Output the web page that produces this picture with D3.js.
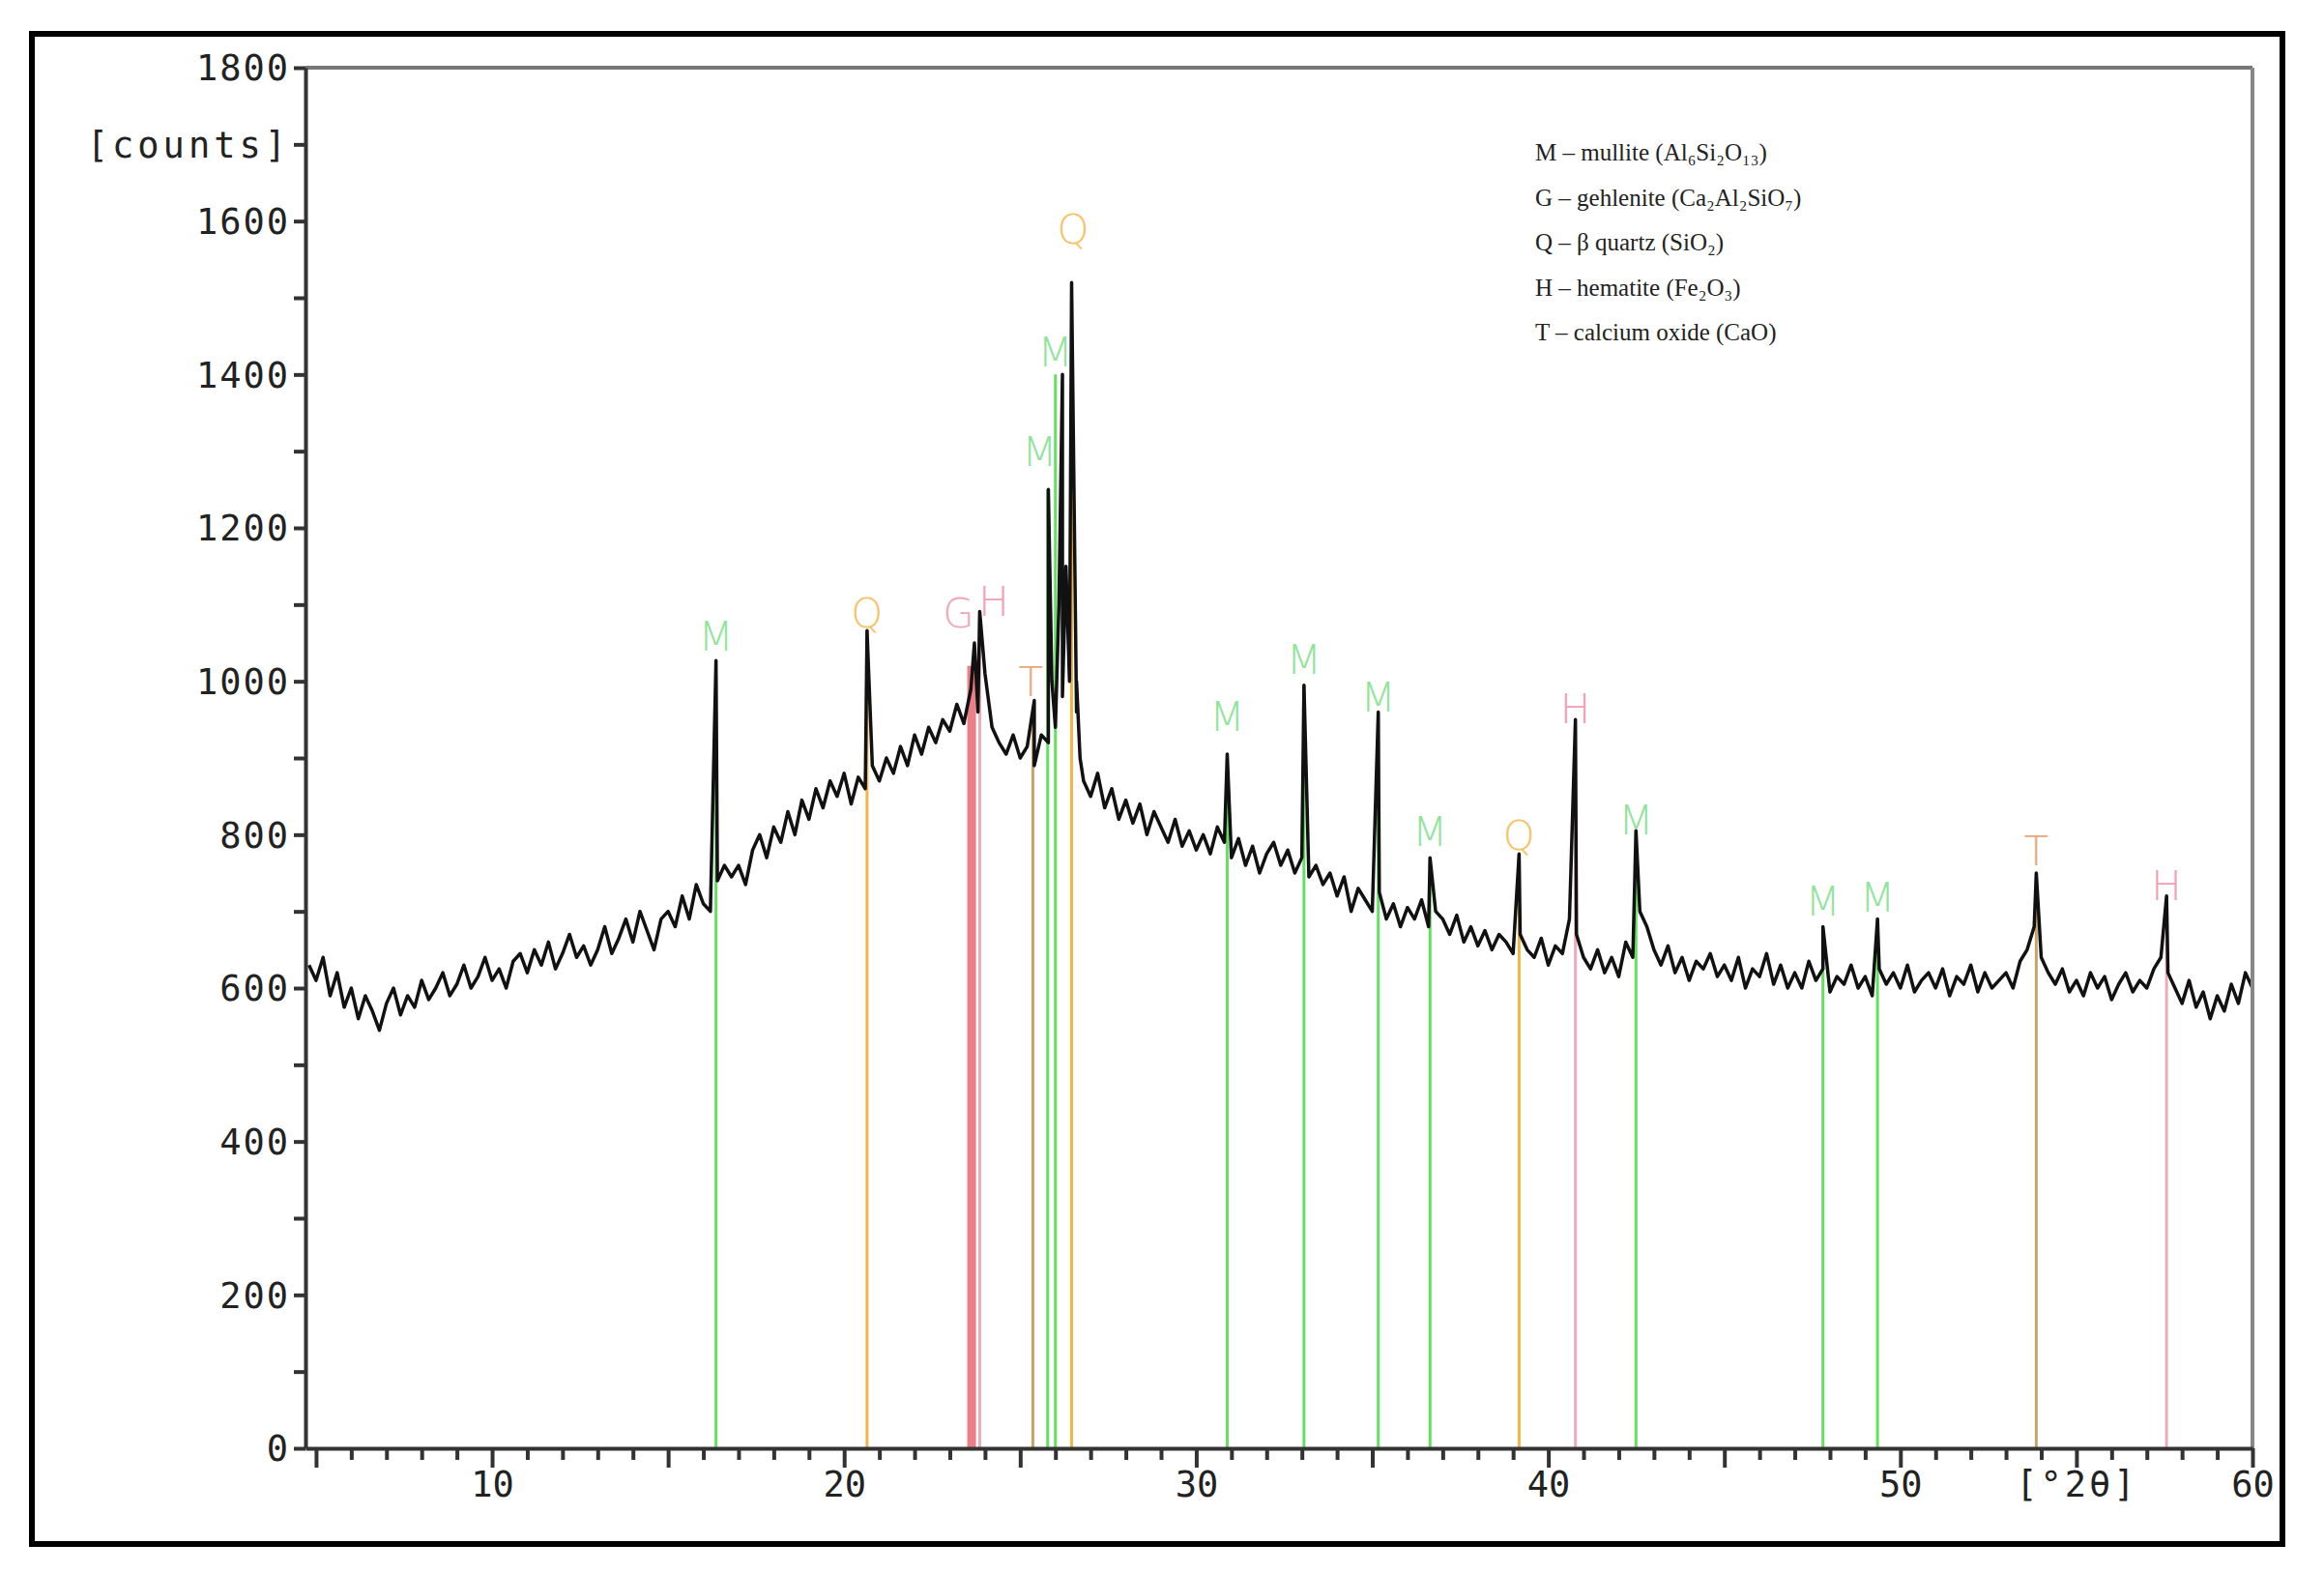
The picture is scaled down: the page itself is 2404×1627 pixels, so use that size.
<!DOCTYPE html>
<html><head><meta charset="utf-8">
<script src="https://cdn.jsdelivr.net/npm/d3@7"></script>
<style>body{margin:0;background:#fff}</style></head>
<body><svg id="c" width="2404" height="1627"></svg>
<script>
const traceStart = 4.8, traceStep = 0.2;
const traceCounts = [
630,
610,640,590,620,575,600,560,590,570,545,
580,600,565,590,575,610,585,600,620,590,
605,630,600,615,640,610,625,600,635,645,
620,650,630,660,625,645,670,640,655,630,
650,680,645,665,690,660,700,675,650,690,
700,680,720,690,735,710,700,740,760,745,
760,735,780,800,770,810,790,830,800,845,
820,860,835,870,850,880,840,875,860,890,
870,900,880,915,890,930,905,940,920,950,
935,970,945,990,960,1010,940,920,905,930,
900,915,890,930,920,940,980,1000,960,870,
850,880,835,860,820,845,815,840,800,830,
810,790,820,785,805,780,800,775,810,790,
770,795,760,785,750,775,790,760,780,750,
770,745,760,735,750,720,745,700,730,715,
700,725,690,710,680,705,690,715,680,700,
690,670,695,660,680,655,675,650,670,660,
645,670,650,640,665,630,655,645,690,670,
640,625,650,620,640,615,660,640,700,680,
650,630,655,620,640,610,635,625,645,615,
630,610,640,600,625,615,645,605,630,600,
620,600,635,610,625,595,615,605,630,600,
615,590,625,605,620,600,630,595,610,620,
600,625,590,615,605,630,595,620,600,610,
620,600,635,650,680,640,620,605,625,595,
610,590,620,600,615,585,605,620,595,610,
600,625,640,620,600,580,610,575,595,560,
590,570,605,580,620,600];
const peakAngles = [16.36,20.65,23.7,23.85,25.4,25.8,25.9,26.1,26.2,26.3,26.46,26.6,26.7,30.88,33.06,35.17,36.64,39.17,40.77,42.49,47.8,49.35,53.86,57.56];
const peakCounts = [1027,1066,1050,1091,975,1250,1000,1100,1400,1150,1520,1000,900,905,995,960,770,775,950,805,680,690,750,720];

const refAngles = [16.36,20.65,23.62,23.85,25.36,25.78,26.0,26.46,30.88,33.06,35.17,36.64,39.17,40.77,42.49,47.8,49.35,53.86,57.56];
const refTops   = [1000,1066,1020,1091,960,1250,1400,1520,905,995,960,770,775,950,805,680,690,750,720];
const refPhase  = ["M","Q","G","H","T","M","M","Q","M","M","M","M","Q","H","M","M","M","T","H"];
const labelAngles = [16.36,20.65,23.25,24.25,25.3,25.55,26.0,26.5,30.88,33.06,35.17,36.64,39.17,40.77,42.49,47.8,49.35,53.86,57.56];
const labelCounts = [1030,1060,1060,1075,970,1270,1400,1560,925,1000,950,775,770,935,790,685,690,750,705];

const yTicks = [0,200,400,600,800,1000,1200,1400,1600,1800];
const xTicks = [10,20,30,40,50,60];
const legendLines = ["M – mullite (Al₆Si₂O₁₃)","G – gehlenite (Ca₂Al₂SiO₇)","Q – β quartz (SiO₂)","H – hematite (Fe₂O₃)","T – calcium oxide (CaO)"];

const lineColor = {M:"#62e062",Q:"#f2b544",G:"#ec7f86",H:"#eeaab8",T:"#c8a46c"};
const lineWidth = {M:3,Q:3,G:9,H:3,T:3};
const labelColor = {M:"#8fe49a",Q:"#f4c46a",G:"#f1a8b8",H:"#f1a0b8",T:"#e8a878"};

const svg = d3.select("#c");
svg.append("rect").attr("x",33).attr("y",35).attr("width",2328).attr("height",1562)
  .attr("fill","#fff").attr("stroke","#000").attr("stroke-width",6);

const x = d3.scaleLinear().domain([4.7,60]).range([316,2330]);
const y = d3.scaleLinear().domain([0,1800]).range([1498,70]);

svg.append("g").selectAll("line").data(refAngles).join("line")
  .attr("x1",d=>x(d)).attr("x2",d=>x(d)).attr("y1",y(0)).attr("y2",(d,i)=>y(refTops[i]))
  .attr("stroke",(d,i)=>lineColor[refPhase[i]]).attr("stroke-width",(d,i)=>lineWidth[refPhase[i]]);

const pts = traceCounts.map((c,i)=>[traceStart+i*traceStep,c]);
peakAngles.forEach((a,i)=>pts.push([a,peakCounts[i]]));
pts.sort((a,b)=>a[0]-b[0]);
svg.append("path").attr("d",d3.line().x(d=>x(d[0])).y(d=>y(d[1]))(pts))
  .attr("fill","none").attr("stroke","#111").attr("stroke-width",3.5).attr("stroke-linejoin","round");

svg.append("g").selectAll("text").data(labelAngles).join("text")
  .attr("x",d=>x(d)).attr("y",(d,i)=>y(labelCounts[i])-8).attr("text-anchor","middle")
  .attr("font-family","DejaVu Sans").attr("font-size",42).attr("font-weight",300)
  .attr("fill",(d,i)=>labelColor[refPhase[i]]).text((d,i)=>refPhase[i]);

svg.append("line").attr("x1",x(4.7)).attr("x2",x(60)).attr("y1",y(1800)).attr("y2",y(1800)).attr("stroke","#777").attr("stroke-width",4);
svg.append("line").attr("x1",x(60)).attr("x2",x(60)).attr("y1",y(1800)).attr("y2",y(0)).attr("stroke","#888").attr("stroke-width",4);

const font = "DejaVu Sans Mono";
const ya = d3.axisLeft(y).tickValues(d3.range(0,1801,100)).tickSize(0).tickFormat("");
const gy = svg.append("g").attr("transform",`translate(${x(4.7)},0)`).call(ya);
gy.select(".domain").attr("stroke","#333").attr("stroke-width",4);
gy.selectAll(".tick line").attr("x2",-12).attr("stroke","#333").attr("stroke-width",4);
gy.selectAll(".tick").filter(d=>yTicks.includes(d)).append("text")
  .attr("x",-16).attr("dy","0.35em").attr("text-anchor","end").attr("fill","#222")
  .attr("font-family",font).attr("font-size",37).attr("letter-spacing",2).text(d=>d);
gy.selectAll(".tick").filter(d=>d===1700).append("text")
  .attr("x",-16).attr("dy","0.35em").attr("text-anchor","end").attr("fill","#222")
  .attr("font-family",font).attr("font-size",37).attr("letter-spacing",4).text("[counts]");

const xa = d3.axisBottom(x).tickValues(d3.range(5,61,1)).tickSize(0).tickFormat("");
const gx = svg.append("g").attr("transform",`translate(0,${y(0)})`).call(xa);
gx.select(".domain").attr("stroke","#333").attr("stroke-width",4);
gx.selectAll(".tick line").attr("y2",d=>d%5===0?20:12).attr("stroke","#333").attr("stroke-width",4);
gx.selectAll(".tick").filter(d=>xTicks.includes(d)).append("text")
  .attr("y",50).attr("text-anchor","middle").attr("fill","#222")
  .attr("font-family",font).attr("font-size",37).text(d=>d);
gx.selectAll(".tick").filter(d=>d===55).append("text")
  .attr("y",50).attr("text-anchor","middle").attr("fill","#222")
  .attr("font-family",font).attr("font-size",37).attr("letter-spacing",3).text("[°2θ]");

svg.append("g").selectAll("text").data(legendLines).join("text")
  .attr("x",1588).attr("y",(d,i)=>166+i*46.5).attr("font-family","Liberation Serif")
  .attr("font-size",25).attr("fill","#222").text(d=>d);
</script></body></html>
